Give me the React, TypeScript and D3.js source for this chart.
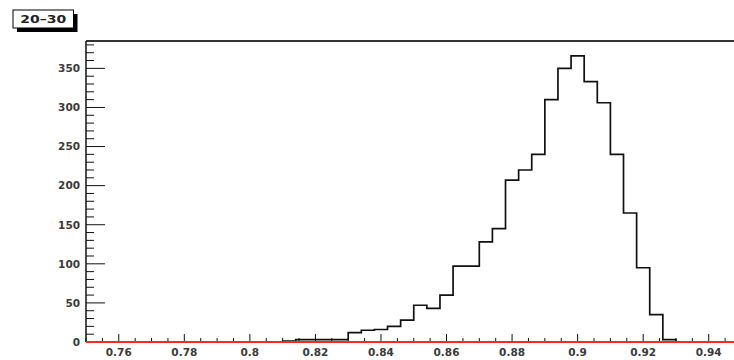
import React from "react";
import * as d3 from "d3";

const title = "20–30";
const binLowEdges = [
  0.81, 0.814, 0.818, 0.822, 0.826, 0.83, 0.834, 0.838, 0.842, 0.846,
  0.85, 0.854, 0.858, 0.862, 0.866, 0.87, 0.874, 0.878, 0.882, 0.886,
  0.89, 0.894, 0.898, 0.902, 0.906, 0.91, 0.914, 0.918, 0.922, 0.926,
];
const binWidth = 0.004;
const counts = [
  1, 3, 3, 3, 3, 12, 15, 16, 20, 28,
  47, 43, 60, 97, 97, 128, 145, 207, 220, 240,
  310, 350, 366, 333, 306, 240, 165, 95, 35, 3,
];
const xDomain = [0.75, 0.95];
const yDomain = [0, 385];
const xTickLabels = [0.76, 0.78, 0.8, 0.82, 0.84, 0.86, 0.88, 0.9, 0.92, 0.94];
const yTickLabels = [0, 50, 100, 150, 200, 250, 300, 350];

const W = 734;
const H = 360;
const left = 86;
const right = 741.5;
const top = 41;
const bottom = 342;

export default function App() {
  const x = d3.scaleLinear().domain(xDomain).range([left, right]);
  const y = d3.scaleLinear().domain(yDomain).range([bottom, top]);

  // histogram outline
  let d = `M${x(binLowEdges[0])},${y(0)}`;
  binLowEdges.forEach((lo, i) => {
    d += `L${x(lo)},${y(counts[i])}L${x(lo + binWidth)},${y(counts[i])}`;
  });
  d += `L${x(binLowEdges[binLowEdges.length - 1] + binWidth)},${y(0)}`;

  const xMinor = d3.range(0, 41).map((i) => 0.75 + i * 0.005);
  const yMinor = d3.range(0, 39).map((i) => i * 10);
  const font = "'DejaVu Sans', 'Liberation Sans', Arial, sans-serif";

  return (
    <svg
      width={W}
      height={H}
      style={{ position: "absolute", left: 0, top: 0, background: "#fff" }}
    >
      <rect x={0} y={0} width={W} height={H} fill="#fff" />
      {/* frame */}
      <line x1={left} x2={right} y1={top} y2={top} stroke="#333" strokeWidth={2} />
      <line x1={left} x2={left} y1={top} y2={bottom} stroke="#111" strokeWidth={1.5} />
      <line x1={left} x2={right} y1={bottom} y2={bottom} stroke="#111" strokeWidth={1.5} />

      {/* y ticks */}
      {yMinor.map((v) => {
        const major = v % 50 === 0;
        return (
          <line
            key={"ym" + v}
            x1={left}
            x2={left + (major ? 19 : 8)}
            y1={y(v)}
            y2={y(v)}
            stroke="#111"
            strokeWidth={1}
          />
        );
      })}
      {yTickLabels.map((v) => (
        <text
          key={"yl" + v}
          x={80}
          y={y(v)}
          dy="0.36em"
          textAnchor="end"
          fontFamily={font}
          fontWeight="bold"
          fontSize={10.5}
          fill="#3a3a3a"
        >
          {v}
        </text>
      ))}

      {/* x ticks */}
      {xMinor.map((v, i) => {
        const major = i % 4 === 2;
        return (
          <line
            key={"xm" + i}
            x1={x(v)}
            x2={x(v)}
            y1={bottom}
            y2={bottom - (major ? 8 : 4)}
            stroke="#111"
            strokeWidth={1}
          />
        );
      })}
      {xTickLabels.map((v) => (
        <text
          key={"xl" + v}
          x={x(v)}
          y={352.5}
          dy="0.36em"
          textAnchor="middle"
          fontFamily={font}
          fontWeight="bold"
          fontSize={10.5}
          fill="#3a3a3a"
        >
          {String(v)}
        </text>
      ))}

      {/* histogram */}
      <path d={d} fill="none" stroke="#111" strokeWidth={1.7} />

      {/* red function line at zero */}
      <line x1={left} x2={right} y1={y(0)} y2={y(0)} stroke="#ff2a2a" strokeWidth={2} />

      {/* title box */}
      <rect x={17} y={14} width={60.5} height={18} fill="#000" />
      <rect x={13} y={10} width={60.5} height={18} fill="#fff" stroke="#000" strokeWidth={1} />
      <text
        x={43.2}
        y={19}
        dy="0.36em"
        textAnchor="middle"
        fontFamily={font}
        fontWeight="bold"
        fontSize={10.5}
        fill="#222"
        textLength={46}
        lengthAdjust="spacingAndGlyphs"
      >
        {title}
      </text>
    </svg>
  );
}
